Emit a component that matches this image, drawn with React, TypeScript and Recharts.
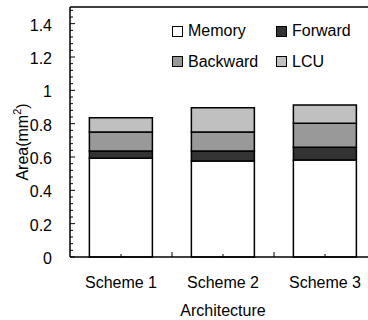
import { BarChart, Bar, XAxis, YAxis, Legend, ReferenceLine, Label } from "recharts";

// Area breakdown per architecture (mm^2)
const categories = ["Scheme 1", "Scheme 2", "Scheme 3"];
const memory = [0.592, 0.576, 0.582];
const forward = [0.044, 0.06, 0.076];
const backward = [0.114, 0.114, 0.144];
const lcu = [0.085, 0.146, 0.11];

const seriesNames = ["Memory", "Forward", "Backward", "LCU"];
const yLabels = [0, 0.2, 0.4, 0.6, 0.8, 1, 1.2, 1.4];
const yAllTicks = [
  0, 0.04, 0.08, 0.12, 0.16, 0.2, 0.24, 0.28, 0.32, 0.36, 0.4, 0.44, 0.48, 0.52, 0.56, 0.6, 0.64, 0.68,
  0.72, 0.76, 0.8, 0.84, 0.88, 0.92, 0.96, 1, 1.04, 1.08, 1.12, 1.16, 1.2, 1.24, 1.28, 1.32, 1.36, 1.4,
  1.44, 1.48,
];

const colors = ["#ffffff", "#333333", "#999999", "#c0c0c0"];
const FONT = "'Liberation Sans', Arial, Helvetica, sans-serif";
const Y_MARGIN = 18;

const data = categories.map((name, i) => ({
  name,
  Memory: memory[i],
  Forward: forward[i],
  Backward: backward[i],
  LCU: lcu[i],
}));

function YTick(props: any) {
  const { x, y, payload } = props;
  const axisX = x + Y_MARGIN;
  const v = payload.value;
  const major = yLabels.some((t) => Math.abs(t - v) < 1e-6);
  return (
    <g>
      <line x1={axisX} x2={axisX + (major ? 5 : 3)} y1={y} y2={y} stroke="#000" strokeWidth={1} />
      {major && (
        <text x={x} y={y} dy={7} textAnchor="end" fontSize={16} fontFamily={FONT} fill="#000">
          {String(v)}
        </text>
      )}
    </g>
  );
}

function XTick(props: any) {
  const { x, y, payload, width, index } = props;
  const half = payload.offset || width / categories.length / 2;
  return (
    <g>
      <line x1={x} x2={x} y1={y} y2={y - 3} stroke="#000" strokeWidth={1} />
      {index < categories.length - 1 && (
        <line x1={x + half} x2={x + half} y1={y} y2={y - 5} stroke="#000" strokeWidth={1} />
      )}
      <text x={x} y={y + 31} textAnchor="middle" fontSize={16} fontFamily={FONT} fill="#000">
        {payload.value}
      </text>
    </g>
  );
}

function LegendBox({ payload }: any) {
  const items = seriesNames.map((n) => (payload || []).find((p: any) => p.value === n) || { value: n });
  return (
    <div
      style={{
        display: "grid",
        gridTemplateColumns: "104px 80px",
        gridAutoRows: "30.5px",
        fontFamily: FONT,
        fontSize: 16,
        color: "#000",
      }}
    >
      {items.map((it: any, i: number) => (
        <div key={it.value} style={{ display: "flex", alignItems: "center" }}>
          <span
            style={{
              width: 9,
              height: 9,
              border: "1px solid #000",
              background: colors[seriesNames.indexOf(it.value)],
              marginRight: 5,
              display: "inline-block",
            }}
          />
          <span>{it.value}</span>
        </div>
      ))}
    </div>
  );
}

export default function App() {
  return (
    <div style={{ position: "absolute", left: 0, top: 0, width: 368, height: 320, overflow: "hidden", background: "#fff" }}>
      <BarChart
        width={380}
        height={320}
        data={data}
        margin={{ top: 7, right: 4, bottom: 0, left: 0 }}
        barCategoryGap="19%"
      >
        <XAxis
          dataKey="name"
          height={63}
          axisLine={{ stroke: "#000", strokeWidth: 1.5 }}
          tickLine={false}
          tickSize={0}
          tickMargin={0}
          tick={<XTick />}
          interval={0}
        >
          <Label
            content={(p: any) => (
              <text
                x={p.viewBox.x + p.viewBox.width / 2}
                y={p.viewBox.y + 59}
                textAnchor="middle"
                fontSize={16}
                fontFamily={FONT}
                fill="#000"
              >
                Architecture
              </text>
            )}
          />
        </XAxis>
        <YAxis
          width={70}
          domain={[0, 1.5]}
          ticks={yAllTicks}
          interval={0}
          axisLine={{ stroke: "#000", strokeWidth: 1.5 }}
          tickLine={false}
          tickSize={0}
          tickMargin={Y_MARGIN}
          tick={<YTick />}
        >
          <Label
            content={(p: any) => {
              const cx = 28;
              const cy = p.viewBox.y + p.viewBox.height / 2 + 10;
              return (
                <text
                  x={cx}
                  y={cy}
                  transform={`rotate(-90, ${cx}, ${cy})`}
                  textAnchor="middle"
                  fontSize={16}
                  fontFamily={FONT}
                  fill="#000"
                >
                  Area(mm
                  <tspan dy={-7} fontSize={11}>2</tspan>
                  <tspan dy={7}>)</tspan>
                </text>
              );
            }}
          />
        </YAxis>
        <ReferenceLine y={1.5} stroke="#000" strokeWidth={1.5} />
        <Legend
          layout="vertical"
          align="center"
          verticalAlign="middle"
          content={<LegendBox />}
          wrapperStyle={{ left: 172, top: 16, width: 190 }}
        />
        {seriesNames.map((s, i) => (
          <Bar key={s} dataKey={s} stackId="a" fill={colors[i]} stroke="#000" strokeWidth={1.5} isAnimationActive={false} />
        ))}
      </BarChart>
    </div>
  );
}
